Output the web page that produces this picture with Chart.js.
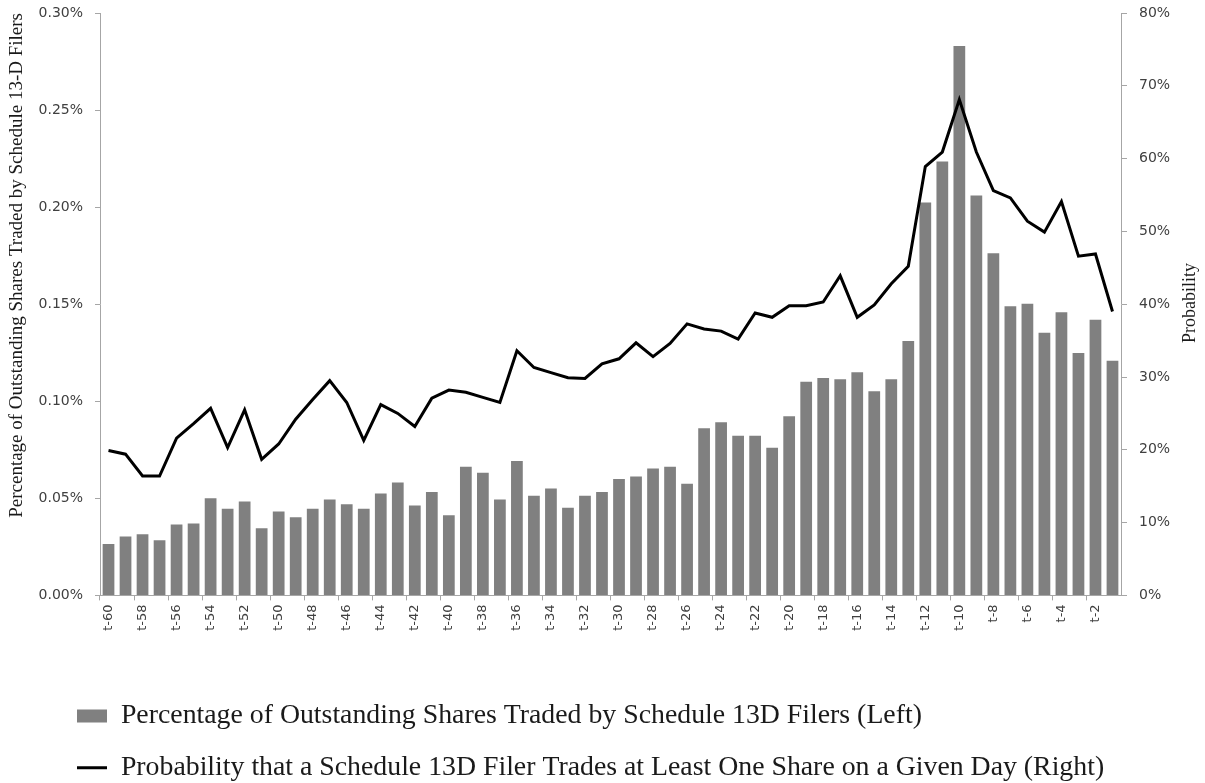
<!DOCTYPE html>
<html>
<head>
<meta charset="utf-8">
<script src="https://cdn.jsdelivr.net/npm/chart.js@4.4.1/dist/chart.umd.min.js"></script>
<style>
html,body{margin:0;padding:0;background:#ffffff;}
canvas{display:block;}
</style>
</head>
<body>
<canvas id="c" width="1205" height="783"></canvas>
<script>
// Categories: trading days before the 13D filing
const categories = [
  't-60','t-59','t-58','t-57','t-56','t-55','t-54','t-53','t-52','t-51',
  't-50','t-49','t-48','t-47','t-46','t-45','t-44','t-43','t-42','t-41',
  't-40','t-39','t-38','t-37','t-36','t-35','t-34','t-33','t-32','t-31',
  't-30','t-29','t-28','t-27','t-26','t-25','t-24','t-23','t-22','t-21',
  't-20','t-19','t-18','t-17','t-16','t-15','t-14','t-13','t-12','t-11',
  't-10','t-9','t-8','t-7','t-6','t-5','t-4','t-3','t-2','t-1'
];

// Percentage of outstanding shares traded (left axis, in %)
const sharesTraded = [
  0.0265,0.0303,0.0315,0.0284,0.0365,0.0370,0.0501,0.0446,0.0484,0.0346,
  0.0432,0.0403,0.0446,0.0494,0.0470,0.0446,0.0525,0.0582,0.0463,0.0532,
  0.0413,0.0663,0.0632,0.0494,0.0692,0.0513,0.0551,0.0451,0.0513,0.0532,
  0.0599,0.0613,0.0654,0.0663,0.0575,0.0861,0.0892,0.0823,0.0823,0.0761,
  0.0923,0.1101,0.1120,0.1114,0.1150,0.1052,0.1114,0.1310,0.2024,0.2235,
  0.2830,0.2060,0.1762,0.1490,0.1502,0.1353,0.1458,0.1249,0.1420,0.1209
];

// Probability of trading at least one share (right axis, in %)
const tradeProbability = [
  19.9,19.4,16.4,16.4,21.6,23.6,25.7,20.3,25.5,18.7,
  20.8,24.2,26.9,29.5,26.5,21.3,26.2,25.0,23.2,27.1,
  28.2,27.9,27.2,26.5,33.6,31.3,30.6,29.9,29.8,31.8,
  32.5,34.7,32.8,34.6,37.3,36.6,36.3,35.2,38.8,38.2,
  39.8,39.8,40.3,43.9,38.2,39.9,42.8,45.2,58.9,60.9,
  68.1,60.9,55.6,54.6,51.4,49.9,54.1,46.6,46.9,39.0
];

const barLabel = 'Percentage of Outstanding Shares Traded by Schedule 13D Filers (Left)';
const lineLabel = 'Probability that a Schedule 13D Filer Trades at Least One Share on a Given Day (Right)';
const leftAxisTitle = 'Percentage of Outstanding Shares Traded by Schedule 13-D Filers';
const rightAxisTitle = 'Probability';

const AXIS = '#a6a6a6';
const TICK_TXT = '#404040';
const SERIF = '"Liberation Serif", "Times New Roman", serif';
const SANS = '"DejaVu Sans", Verdana, sans-serif';

const customLayout = {
  id: 'customLayout',
  beforeDraw(chart) {
    const lg = chart.legend;
    if (lg) {
      const w = lg.width, h = lg.height;
      lg.left = 53; lg.right = 53 + w;
      lg.top = 678; lg.bottom = 678 + h + 20;
    }
  },
  afterDraw(chart) {
    const ctx = chart.ctx;
    ctx.save();
    ctx.translate(1190, 303);
    ctx.rotate(-Math.PI / 2);
    ctx.font = '18px ' + SERIF;
    ctx.fillStyle = '#1a1a1a';
    ctx.textAlign = 'center';
    ctx.textBaseline = 'middle';
    ctx.fillText(rightAxisTitle, 0, 0);
    ctx.restore();
  }
};

new Chart(document.getElementById('c'), {
  type: 'bar',
  data: {
    labels: categories,
    datasets: [
      {
        type: 'bar',
        label: barLabel,
        data: sharesTraded,
        backgroundColor: '#808080',
        borderWidth: 0,
        yAxisID: 'y',
        order: 1,
        pointStyle: 'rect',
        barPercentage: 0.69,
        categoryPercentage: 1.0
      },
      {
        type: 'line',
        label: lineLabel,
        data: tradeProbability,
        borderColor: '#000000',
        backgroundColor: '#000000',
        borderWidth: 3,
        pointRadius: 0,
        pointHoverRadius: 0,
        pointStyle: 'line',
        tension: 0,
        fill: false,
        yAxisID: 'y1',
        order: 0
      }
    ]
  },
  options: {
    responsive: false,
    animation: false,
    devicePixelRatio: 1,
    layout: { padding: { top: 13, left: 0, right: 0, bottom: 0 } },
    plugins: {
      tooltip: { enabled: false },
      legend: {
        display: true,
        position: 'bottom',
        align: 'start',
        labels: {
          usePointStyle: true,
          pointStyleWidth: 30,
          boxHeight: 13,
          padding: 24,
          color: '#1a1a1a',
          font: { family: SERIF, size: 27.8 },
          sort: (a, b) => a.datasetIndex - b.datasetIndex
        }
      }
    },
    scales: {
      x: {
        offset: true,
        grid: {
          offset: true,
          drawOnChartArea: false,
          drawTicks: true,
          tickLength: 5,
          lineWidth: 1,
          color: (c) => (c.index % 2 === 0 ? AXIS : 'rgba(0,0,0,0)')
        },
        border: { display: true, color: AXIS, width: 1 },
        ticks: {
          autoSkip: false,
          minRotation: 90,
          maxRotation: 90,
          padding: 4,
          color: TICK_TXT,
          font: { family: SANS, size: 13 },
          callback: function (v, i) { return i % 2 === 0 ? this.getLabelForValue(v) : ''; }
        },
        afterFit: (s) => { s.height = 74; }
      },
      y: {
        position: 'left',
        min: 0,
        max: 0.30,
        grid: { drawOnChartArea: false, drawTicks: true, tickLength: 5, color: AXIS },
        border: { display: true, color: AXIS, width: 1 },
        ticks: {
          stepSize: 0.05,
          padding: 12,
          color: TICK_TXT,
          font: { family: SANS, size: 14 },
          callback: (v) => v.toFixed(2) + '%'
        },
        title: {
          display: true,
          text: leftAxisTitle,
          align: 'end',
          color: '#1a1a1a',
          font: { family: SERIF, size: 19 },
          padding: { top: 6, bottom: 0 }
        },
        afterFit: (s) => { s.width = 100; s.paddingTop = 0; s.paddingBottom = 0; }
      },
      y1: {
        position: 'right',
        min: 0,
        max: 80,
        grid: { drawOnChartArea: false, drawTicks: true, tickLength: 6, color: AXIS },
        border: { display: true, color: AXIS, width: 1 },
        ticks: {
          stepSize: 10,
          padding: 12,
          color: TICK_TXT,
          font: { family: SANS, size: 14 },
          callback: (v) => Math.round(v) + '%'
        },
        afterFit: (s) => { s.width = 84; s.paddingTop = 0; s.paddingBottom = 0; }
      }
    }
  },
  plugins: [customLayout]
});
</script>
</body>
</html>
